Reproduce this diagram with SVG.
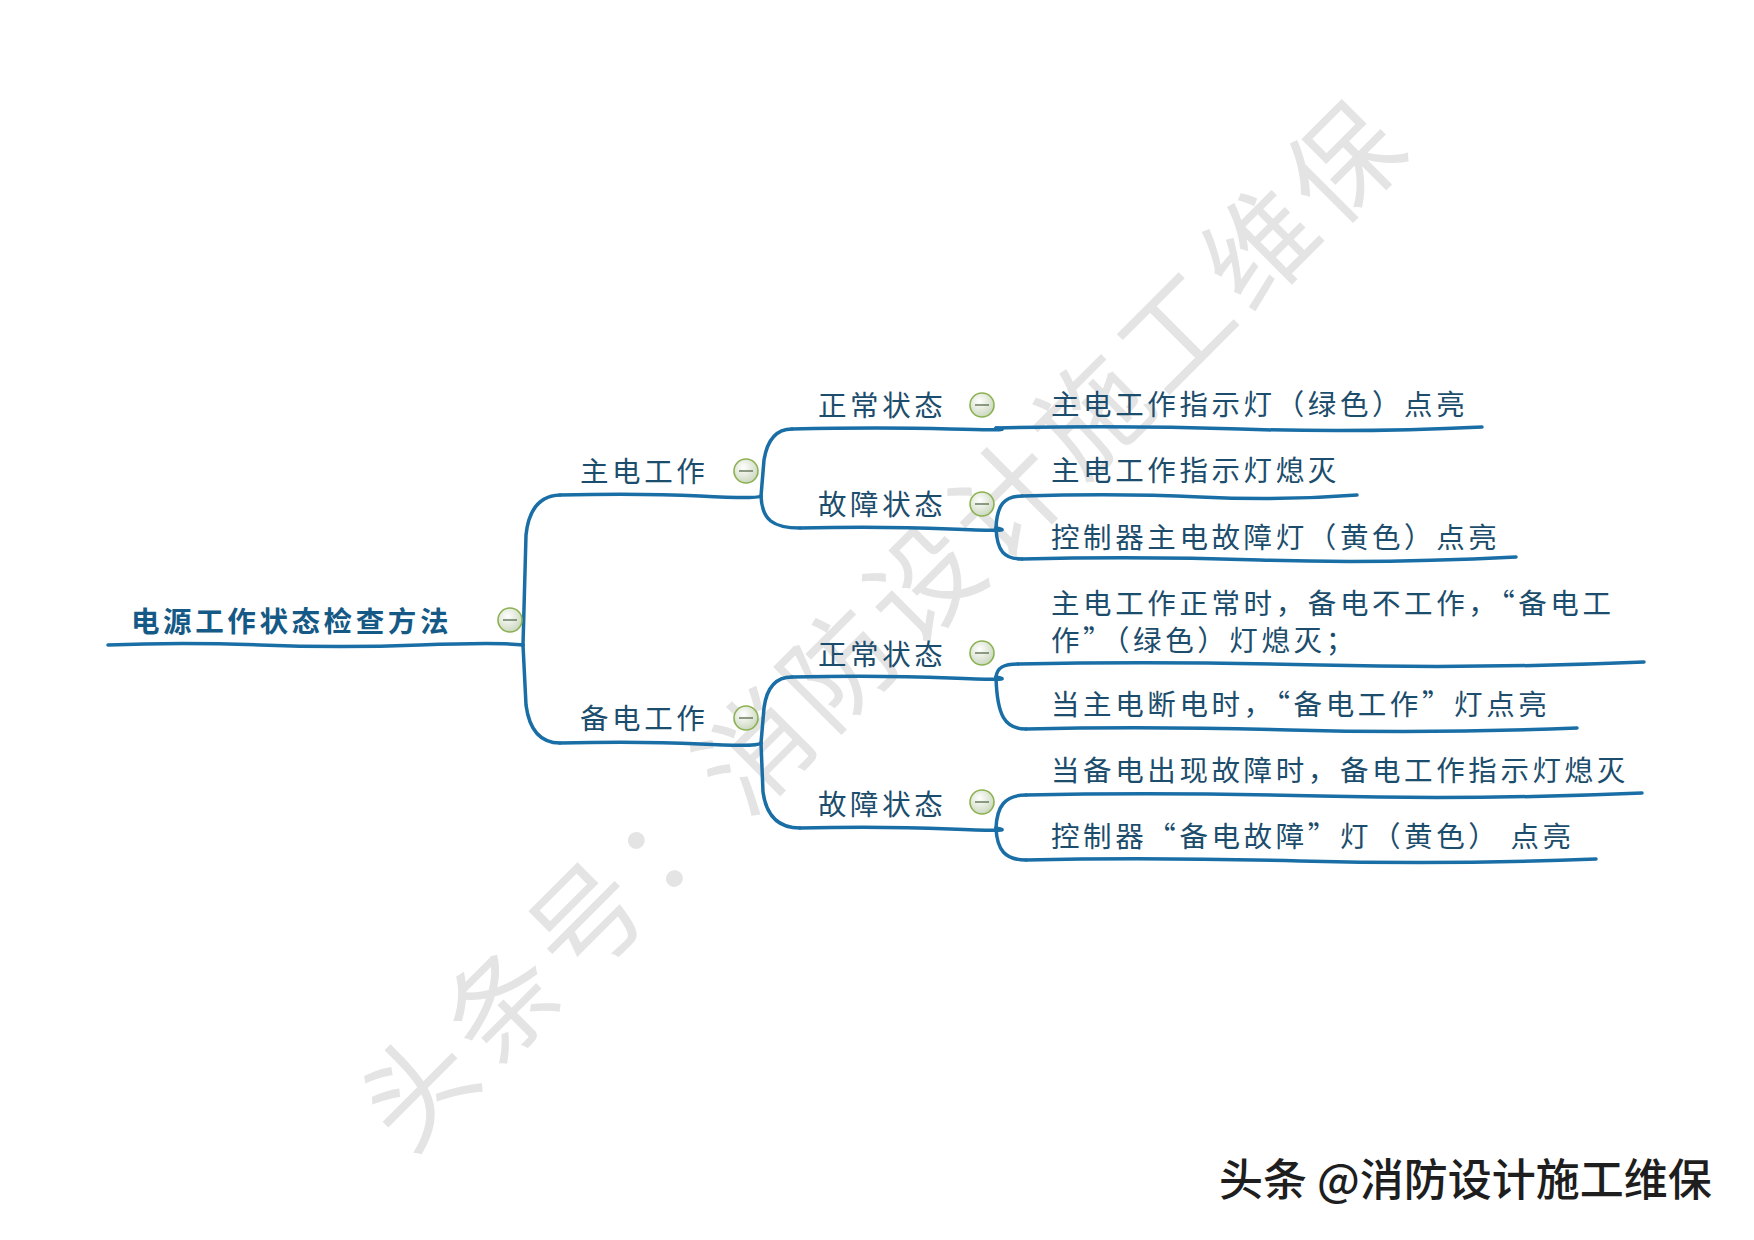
<svg xmlns="http://www.w3.org/2000/svg" width="1754" height="1240" viewBox="0 0 1754 1240">
<defs>
<radialGradient id="btnGrad" cx="0.4" cy="0.35" r="0.7">
<stop offset="0" stop-color="#ffffff"/>
<stop offset="1" stop-color="#c9d6bc"/>
</radialGradient>
<style>
text{font-family:"Noto Sans CJK SC","Noto Sans",sans-serif;}
.t{font-size:28.5px;letter-spacing:3.6px;fill:#1c4d6c;}
.root{font-size:28.5px;letter-spacing:3.6px;fill:#155a86;font-weight:bold;}
.ln{fill:none;stroke:#1a6ea6;stroke-width:3.5;stroke-linecap:round;stroke-linejoin:round;}
.btn{fill:url(#btnGrad);stroke:#8cb152;stroke-width:1.6;}
.minus{stroke:#566a48;stroke-width:1.3;}
.wm{font-size:110px;letter-spacing:9px;fill:#e4e4e4;}
.sig{font-size:44px;font-weight:500;fill:#1e1e1e;}
</style>
</defs>
<rect width="1754" height="1240" fill="#ffffff"/>

<g id="watermark">
<text class="wm" x="408" y="1156" transform="rotate(-45 408 1156)">头条号：消防设计施工维保</text>
</g>

<g id="connectors">
<path class="ln" d="M523,645 L526,535 Q530,496 560,495"/>
<path class="ln" d="M523,645 L526,705 Q531,743 560,743"/>
<path class="ln" d="M761,496 L764,460 Q769,429 792,429"/>
<path class="ln" d="M761,496 C762,520 773,528 800,528"/>
<path class="ln" d="M761,743 L764,708 Q768,677 792,677"/>
<path class="ln" d="M761,743 L763,792 Q768,828 800,828"/>
<path class="ln" d="M996,528 C997,505 1004,496 1022,496"/>
<path class="ln" d="M996,528 C997,551 1004,559 1022,559"/>
<path class="ln" d="M996,677 C997,668 1003,664 1018,664"/>
<path class="ln" d="M996,677 C997,716 1005,729 1026,729"/>
<path class="ln" d="M996,828 C997,806 1005,795 1026,795"/>
<path class="ln" d="M996,828 C997,850 1005,860 1026,860"/>
</g>

<g id="node-root">
<path class="ln" d="M108,645 Q180,642 260,645 T420,645 T523,645"/>
<text class="root" x="131" y="632">电源工作状态检查方法</text>
<circle class="btn" cx="510" cy="620" r="12"/><line class="minus" x1="503" y1="620" x2="517" y2="620"/>
</g>

<g id="node-main">
<path class="ln" d="M560,495 Q640,493 700,496 T761,496"/>
<text class="t" x="580" y="482">主电工作</text>
<circle class="btn" cx="746" cy="471" r="12"/><line class="minus" x1="739" y1="471" x2="753" y2="471"/>
</g>

<g id="node-backup">
<path class="ln" d="M560,743 Q640,741 700,744 T761,743"/>
<text class="t" x="580" y="729">备电工作</text>
<circle class="btn" cx="746" cy="718" r="12"/><line class="minus" x1="739" y1="718" x2="753" y2="718"/>
</g>

<g id="node-main-normal">
<path class="ln" d="M792,429 Q880,427 950,429 T996,428"/>
<text class="t" x="818" y="416">正常状态</text>
<circle class="btn" cx="982" cy="405" r="12"/><line class="minus" x1="975" y1="405" x2="989" y2="405"/>
</g>

<g id="node-main-fault">
<path class="ln" d="M800,528 Q880,526 950,529 T996,528"/>
<text class="t" x="818" y="515">故障状态</text>
<circle class="btn" cx="982" cy="504" r="12"/><line class="minus" x1="975" y1="504" x2="989" y2="504"/>
</g>

<g id="node-backup-normal">
<path class="ln" d="M792,677 Q880,675 950,678 T996,677"/>
<text class="t" x="818" y="665">正常状态</text>
<circle class="btn" cx="982" cy="653" r="12"/><line class="minus" x1="975" y1="653" x2="989" y2="653"/>
</g>

<g id="node-backup-fault">
<path class="ln" d="M800,828 Q880,826 950,829 T996,828"/>
<text class="t" x="818" y="815">故障状态</text>
<circle class="btn" cx="982" cy="802" r="12"/><line class="minus" x1="975" y1="802" x2="989" y2="802"/>
</g>

<g id="leaf-1">
<path class="ln" d="M996,428 Q1120,425 1240,429 T1482,427"/>
<text class="t" x="1051" y="415">主电工作指示灯（绿色）点亮</text>
</g>

<g id="leaf-2">
<path class="ln" d="M1022,496 Q1120,493 1200,497 T1357,495"/>
<text class="t" x="1051" y="481">主电工作指示灯熄灭</text>
</g>

<g id="leaf-3">
<path class="ln" d="M1022,559 Q1140,556 1260,560 T1516,557"/>
<text class="t" x="1051" y="548">控制器主电故障灯（黄色）点亮</text>
</g>

<g id="leaf-4">
<path class="ln" d="M1018,664 Q1160,661 1320,665 T1644,662"/>
<text class="t" x="1051" y="614">主电工作正常时，备电不工作，“备电工</text>
<text class="t" x="1051" y="651">作”（绿色）灯熄灭；</text>
</g>

<g id="leaf-5">
<path class="ln" d="M1026,729 Q1150,726 1290,730 T1577,728"/>
<text class="t" x="1051" y="715">当主电断电时，“备电工作”灯点亮</text>
</g>

<g id="leaf-6">
<path class="ln" d="M1026,795 Q1160,792 1320,796 T1642,793"/>
<text class="t" x="1051" y="781">当备电出现故障时，备电工作指示灯熄灭</text>
</g>

<g id="leaf-7">
<path class="ln" d="M1026,860 Q1150,857 1300,861 T1596,859"/>
<text class="t" x="1051" y="847">控制器“备电故障”灯（黄色） 点亮</text>
</g>

<g id="signature">
<text class="sig" x="1219" y="1196">头条 @消防设计施工维保</text>
</g>
</svg>
